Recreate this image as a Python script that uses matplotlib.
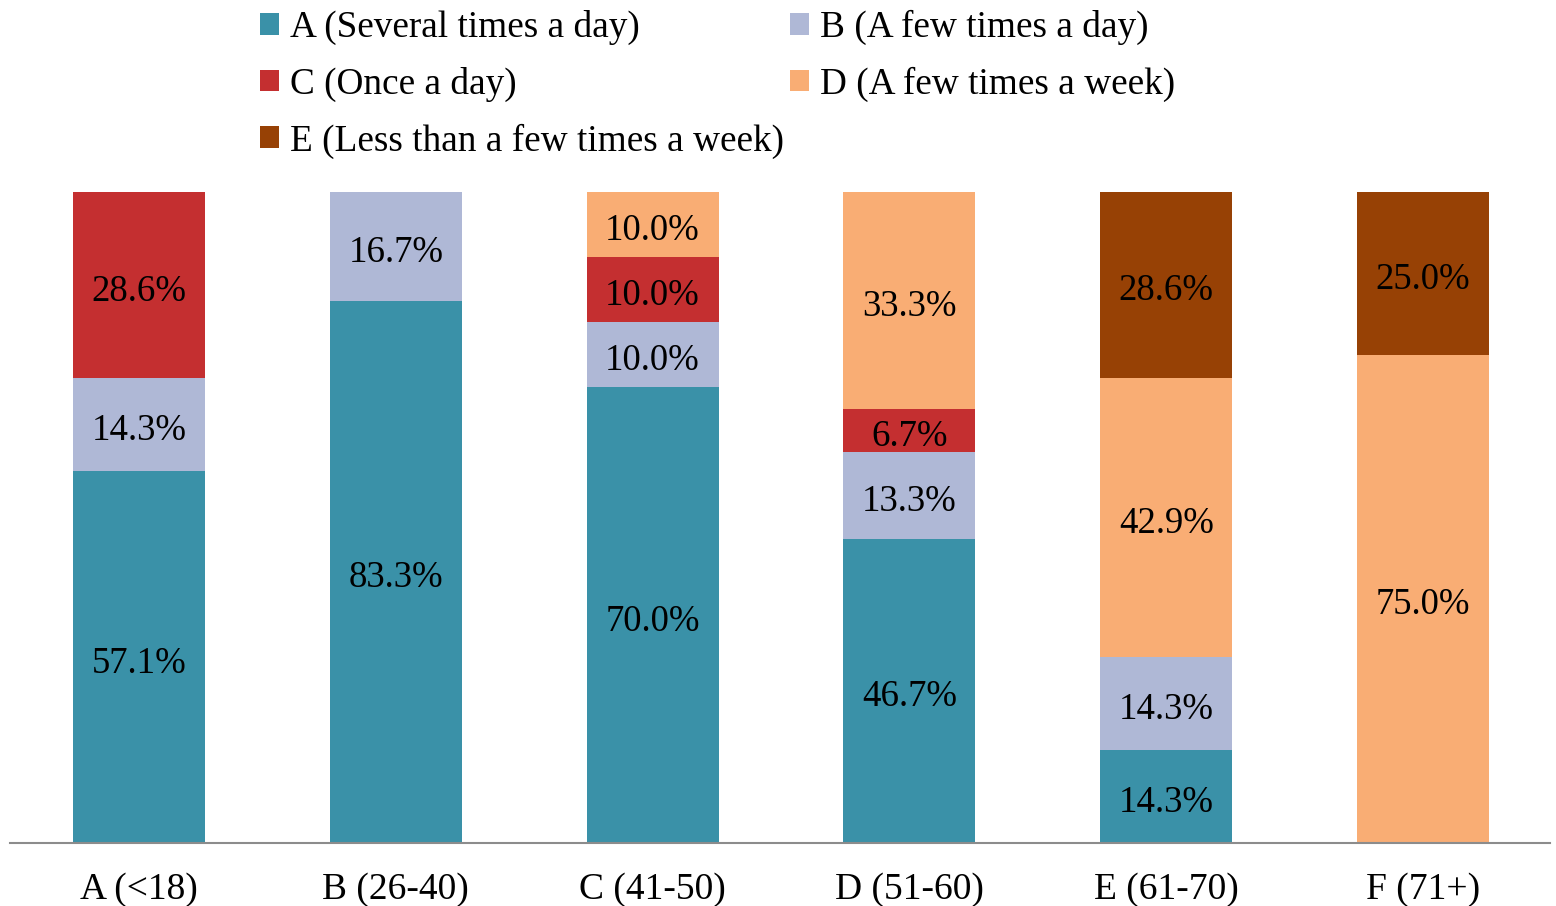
import matplotlib
matplotlib.use("Agg")
import matplotlib.pyplot as plt
from matplotlib.patches import Patch
from matplotlib.transforms import offset_copy

plt.rcParams['font.family'] = ['Liberation Serif', 'DejaVu Serif']

age_groups = ["A (<18)", "B (26-40)", "C (41-50)", "D (51-60)", "E (61-70)", "F (71+)"]
series_names = ["A (Several times a day)", "B (A few times a day)", "C (Once a day)",
                "D (A few times a week)", "E (Less than a few times a week)"]
several_daily = [57.1, 83.3, 70.0, 46.7, 14.3, 0.0]
few_daily = [14.3, 16.7, 10.0, 13.3, 14.3, 0.0]
once_daily = [28.6, 0.0, 10.0, 6.7, 0.0, 0.0]
few_weekly = [0.0, 0.0, 10.0, 33.3, 42.9, 75.0]
less_weekly = [0.0, 0.0, 0.0, 0.0, 28.6, 25.0]

colors = ["#3A91A8", "#AFB8D6", "#C42F30", "#F9AD74", "#974105"]
series = [several_daily, few_daily, once_daily, few_weekly, less_weekly]

fig = plt.figure(figsize=(15.56, 9.06), dpi=100)
ax = fig.add_axes([10 / 1556, 1 - 843 / 906, 1540 / 1556, 651 / 906])

# value labels sit a little below the exact segment middle
label_tf = offset_copy(ax.transData, fig=fig, x=0, y=-4.5, units="points")

x = list(range(len(age_groups)))
bottom = [0.0] * len(x)
for vals, col in zip(series, colors):
    ax.bar(x, vals, width=0.514, bottom=bottom, color=col, edgecolor="none")
    for xi, v, b in zip(x, vals, bottom):
        if v > 0:
            ax.text(xi, b + v / 2, f"{v:.1f}%", ha="center", va="center",
                    fontsize=26.5, color="black", transform=label_tf)
    bottom = [b + v for b, v in zip(bottom, vals)]

ax.set_xlim(-0.502, 5.494)
ax.set_ylim(0, 100)
ax.set_yticks([])
ax.set_xticks(x)
ax.set_xticklabels(age_groups, fontsize=27)
ax.tick_params(axis="x", length=0, pad=21)
for s in ["top", "right", "left"]:
    ax.spines[s].set_visible(False)
ax.spines["bottom"].set_color("#8C8C8C")
ax.spines["bottom"].set_linewidth(1.5)

handles = [Patch(facecolor=c, edgecolor="none") for c in colors]
order = [0, 2, 4, 1, 3]
fig.legend([handles[i] for i in order], [series_names[i] for i in order],
           ncol=2, loc="upper left", bbox_to_anchor=(256 / 1556, 1 - 6 / 906),
           frameon=False, fontsize=26.8, handlelength=0.52, handleheight=0.52,
           handletextpad=0.3, columnspacing=0.15, labelspacing=0.58,
           borderaxespad=0.0, borderpad=0.1)

fig.savefig("out.png", dpi=100)
